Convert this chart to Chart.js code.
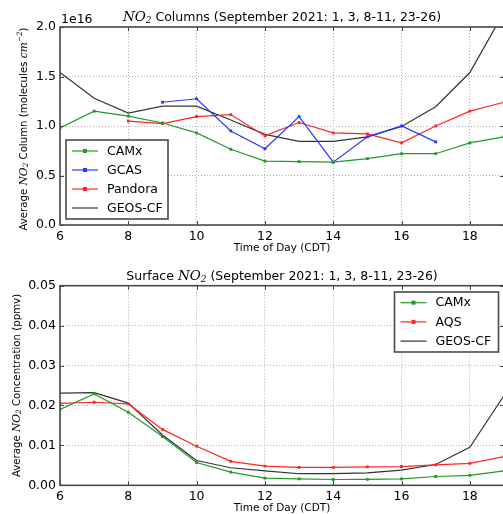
<!DOCTYPE html>
<html>
<head>
<meta charset="utf-8">
<script src="https://cdn.jsdelivr.net/npm/chart.js@4/dist/chart.umd.min.js"></script>
<style>
  html, body { margin: 0; padding: 0; background: #fff; }
  body { width: 503px; height: 514px; overflow: hidden; position: relative; }
  canvas { position: absolute; left: 0; }
  #cCol { top: 0; }
  #cSurf { top: 260px; }
</style>
</head>
<body>
<canvas id="cCol" width="520" height="260"></canvas>
<canvas id="cSurf" width="520" height="254"></canvas>
<script>
// Hour of day (CDT)
const hours = [6, 7, 8, 9, 10, 11, 12, 13, 14, 15, 16, 17, 18, 19];
const hourTicks = [6, 8, 10, 12, 14, 16, 18];

// Column NO2, units of 1e16 molecules cm^-2
const camxColumn    = [0.98, 1.15, 1.10, 1.03, 0.93, 0.765, 0.645, 0.64, 0.635, 0.67, 0.72, 0.72, 0.83, 0.89];
const gcasColumn    = [null, null, null, 1.24, 1.275, 0.95, 0.77, 1.095, 0.635, 0.89, 1.0, 0.84, null, null];
const pandoraColumn = [null, null, 1.05, 1.025, 1.095, 1.115, 0.90, 1.035, 0.93, 0.92, 0.83, 1.0, 1.15, 1.24];
const geosColumn    = [1.54, 1.28, 1.13, 1.20, 1.20, 1.06, 0.915, 0.845, 0.845, 0.89, 0.995, 1.195, 1.54, 2.15];
const columnTicks = [0, 0.5, 1.0, 1.5, 2.0];
const COLUMN_SCALE = 1e16;

// Surface NO2 (ppmv)
const camxSurface = [0.0190, 0.0229, 0.0183, 0.0122, 0.0057, 0.0033, 0.0018, 0.0016, 0.00145, 0.0015, 0.0016, 0.0022, 0.0025, 0.0036];
const aqsSurface  = [0.0205, 0.0208, 0.0204, 0.0140, 0.0098, 0.0060, 0.0048, 0.0045, 0.0045, 0.0046, 0.0047, 0.0051, 0.0055, 0.0072];
const geosSurface = [0.0231, 0.0232, 0.0206, 0.0126, 0.0062, 0.0044, 0.0036, 0.0029, 0.0029, 0.0031, 0.0038, 0.0052, 0.0095, 0.0225];
const surfaceTicks = [0, 0.01, 0.02, 0.03, 0.04, 0.05];

const GREEN = '#239a23', BLUE = '#2a36ff', RED = '#ff2626', BLACK = '#333333';
const SANS = '"DejaVu Sans", sans-serif';
const MATH = '"DejaVu Serif", serif';

function pairs(values, scale) {
  const out = [];
  values.forEach((v, i) => { if (v !== null) out.push({ x: hours[i], y: v * (scale || 1) }); });
  return out;
}

function series(label, values, color, markers, scale) {
  return {
    label, data: pairs(values, scale),
    borderColor: color, backgroundColor: color,
    borderWidth: 1.2, tension: 0,
    pointRadius: markers ? 2 : 0, pointHoverRadius: 0,
    pointStyle: 'rect', pointBorderWidth: 0,
    showMarker: markers
  };
}

// Rich text runs: [{t, font, dy}]
function runWidth(ctx, runs) {
  return runs.reduce((w, r) => { ctx.font = r.font; return w + ctx.measureText(r.t).width; }, 0);
}
function drawRuns(ctx, runs, x, y) {
  let cx = x;
  runs.forEach(r => {
    ctx.font = r.font;
    ctx.fillText(r.t, cx, y + (r.dy || 0));
    cx += ctx.measureText(r.t).width;
  });
}

const decor = {
  id: 'decor',
  afterDraw(chart, args, o) {
    const ctx = chart.ctx, a = chart.chartArea;
    ctx.save();
    ctx.fillStyle = '#000';
    ctx.textBaseline = 'middle';
    const cxp = (a.left + a.right) / 2;

    // inward tick marks on all four sides
    ctx.strokeStyle = '#444'; ctx.lineWidth = 1;
    const xs = chart.scales.x, ys = chart.scales.y;
    xs.ticks.forEach(t => {
      const px = Math.round(xs.getPixelForValue(t.value)) + 0.5;
      ctx.beginPath();
      ctx.moveTo(px, a.bottom); ctx.lineTo(px, a.bottom - 4);
      ctx.moveTo(px, a.top); ctx.lineTo(px, a.top + 4);
      ctx.stroke();
    });
    ys.ticks.forEach(t => {
      const py = Math.round(ys.getPixelForValue(t.value)) + 0.5;
      ctx.beginPath();
      ctx.moveTo(a.left, py); ctx.lineTo(a.left + 4, py);
      ctx.moveTo(a.right, py); ctx.lineTo(a.right - 4, py);
      ctx.stroke();
    });

    // frame
    ctx.strokeStyle = '#4a4a4a'; ctx.lineWidth = 1.6;
    ctx.strokeRect(a.left, a.top, a.right - a.left, a.bottom - a.top);

    // title
    const tw = runWidth(ctx, o.title);
    drawRuns(ctx, o.title, cxp - tw / 2, a.top - o.titleGap);

    // x-axis title
    ctx.font = '10.5px ' + SANS;
    ctx.textAlign = 'center';
    ctx.fillText('Time of Day (CDT)', cxp, o.xTitleY);
    ctx.textAlign = 'left';

    // y-axis title
    ctx.save();
    ctx.translate(o.yTitleX, (a.top + a.bottom) / 2 + (o.yTitleShift || 0));
    ctx.rotate(-Math.PI / 2);
    const yw = runWidth(ctx, o.yTitle);
    drawRuns(ctx, o.yTitle, -yw / 2, 0);
    ctx.restore();

    // offset text
    if (o.offsetText) {
      ctx.font = '12.5px ' + SANS;
      ctx.fillText(o.offsetText, a.left + 1, a.top - 7);
    }

    // legend
    const L = o.legend;
    ctx.fillStyle = '#fff';
    ctx.fillRect(L.x, L.y, L.w, L.h);
    ctx.strokeStyle = '#4a4a4a'; ctx.lineWidth = 1.6;
    ctx.strokeRect(L.x, L.y, L.w, L.h);
    chart.data.datasets.forEach((ds, i) => {
      const ey = L.y + L.first + i * L.step;
      ctx.strokeStyle = ds.borderColor; ctx.lineWidth = 1.2;
      ctx.beginPath();
      ctx.moveTo(L.x + 6, ey); ctx.lineTo(L.x + 32, ey);
      ctx.stroke();
      if (ds.showMarker) {
        ctx.fillStyle = ds.borderColor;
        ctx.fillRect(L.x + 19 - 2, ey - 2, 4, 4);
      }
      ctx.fillStyle = '#000';
      ctx.font = '12.5px ' + SANS;
      ctx.fillText(ds.label, L.x + 41, ey + 0.5);
    });
    ctx.restore();
  }
};

function baseOptions(yMin, yMax, yTickValues, yFmt, xAxisHeight, topPad, decorOpts) {
  return {
    responsive: false,
    devicePixelRatio: 1,
    animation: false,
    layout: { padding: { top: topPad, right: 16, left: 0, bottom: 0 } },
    plugins: { legend: { display: false }, tooltip: { enabled: false }, decor: decorOpts },
    scales: {
      x: {
        type: 'linear', min: 6, max: 19,
        afterBuildTicks: s => { s.ticks = hourTicks.map(v => ({ value: v })); },
        afterFit: s => { s.height = xAxisHeight; },
        grid: { color: '#b0b0b0', lineWidth: 1, drawTicks: false, tickLength: 0 },
        border: { display: false, dash: [1, 2] },
        ticks: { padding: 4, color: '#000', font: { family: SANS, size: 12.5 }, maxRotation: 0,
                 callback: v => String(v) }
      },
      y: {
        type: 'linear', min: yMin, max: yMax,
        afterBuildTicks: s => { s.ticks = yTickValues.map(v => ({ value: v })); },
        afterFit: s => { s.width = 60; },
        grid: { color: '#b0b0b0', lineWidth: 1, drawTicks: false, tickLength: 0 },
        border: { display: false, dash: [1, 2] },
        ticks: { padding: 4, color: '#000', font: { family: SANS, size: 12.5 }, callback: yFmt }
      }
    }
  };
}

Chart.register(decor);

// Column chart
new Chart(document.getElementById('cCol'), {
  type: 'line',
  data: {
    datasets: [
      series('CAMx', camxColumn, GREEN, true, COLUMN_SCALE),
      series('GCAS', gcasColumn, BLUE, true, COLUMN_SCALE),
      series('Pandora', pandoraColumn, RED, true, COLUMN_SCALE),
      series('GEOS-CF', geosColumn, BLACK, false, COLUMN_SCALE)
    ]
  },
  options: baseOptions(0, 2 * COLUMN_SCALE, columnTicks.map(v => v * COLUMN_SCALE),
    v => (v / COLUMN_SCALE).toFixed(1), 35, 27, {
      title: [
        { t: 'NO', font: 'italic 13.5px ' + MATH },
        { t: '2', font: 'italic 9px ' + MATH, dy: 3 },
        { t: ' Columns (September 2021: 1, 3, 8-11, 23-26)', font: '12.5px ' + SANS }
      ],
      titleGap: 9.5,
      xTitleY: 248.5,
      yTitleX: 24,
      yTitleShift: 3,
      yTitle: [
        { t: 'Average ', font: '10.2px ' + SANS },
        { t: 'NO', font: 'italic 10.7px ' + MATH },
        { t: '2', font: 'italic 7.3px ' + MATH, dy: 2.5 },
        { t: ' Column (molecules ', font: '10.2px ' + SANS },
        { t: 'cm', font: 'italic 10.7px ' + MATH },
        { t: '\u22122', font: 'italic 7.3px ' + MATH, dy: -4 },
        { t: ')', font: '10.2px ' + SANS }
      ],
      offsetText: '1e16',
      legend: { x: 66, y: 140, w: 102, h: 79, first: 11, step: 19 }
    })
});

// Surface chart
new Chart(document.getElementById('cSurf'), {
  type: 'line',
  data: {
    datasets: [
      series('CAMx', camxSurface, GREEN, true),
      series('AQS', aqsSurface, RED, true),
      series('GEOS-CF', geosSurface, BLACK, false)
    ]
  },
  options: baseOptions(0, 0.05, surfaceTicks, v => v.toFixed(2), 28.7, 25.7, {
      title: [
        { t: 'Surface ', font: '12.5px ' + SANS },
        { t: 'NO', font: 'italic 13.5px ' + MATH },
        { t: '2', font: 'italic 9px ' + MATH, dy: 3 },
        { t: ' (September 2021: 1, 3, 8-11, 23-26)', font: '12.5px ' + SANS }
      ],
      titleGap: 9,
      xTitleY: 248.5,
      yTitleX: 17,
      yTitle: [
        { t: 'Average ', font: '10.2px ' + SANS },
        { t: 'NO', font: 'italic 10.7px ' + MATH },
        { t: '2', font: 'italic 7.3px ' + MATH, dy: 2.5 },
        { t: ' Concentration (ppmv)', font: '10.2px ' + SANS }
      ],
      legend: { x: 394.5, y: 32, w: 104, h: 60, first: 10.7, step: 19.2 }
    })
});
</script>
</body>
</html>
